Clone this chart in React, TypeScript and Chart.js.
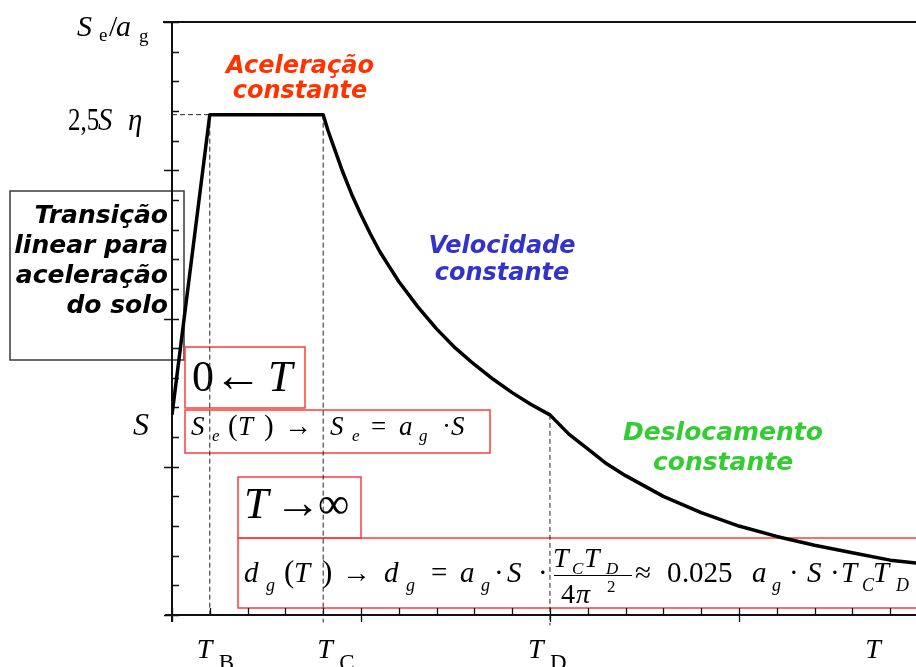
import React, { useEffect, useRef } from 'react';
import { Chart, registerables } from 'chart.js';

Chart.register(...registerables);

// ---- data ----
const periodT = [0, 0.2, 0.8, 0.825, 0.85, 0.875, 0.9, 0.95, 1.0, 1.05, 1.1, 1.15, 1.2, 1.3, 1.4, 1.5, 1.6, 1.7, 1.8, 1.9, 2.0, 2.1, 2.2, 2.3, 2.4, 2.6, 2.8, 3.0, 3.2, 3.4, 3.6, 3.8, 3.94];
const spectrumSe = [1.35, 3.375, 3.375, 3.27, 3.18, 3.09, 3.0, 2.84, 2.7, 2.57, 2.45, 2.35, 2.25, 2.08, 1.93, 1.8, 1.69, 1.59, 1.5, 1.42, 1.35, 1.22, 1.12, 1.02, 0.94, 0.8, 0.69, 0.6, 0.53, 0.47, 0.42, 0.37, 0.35];
const cornerPeriods = [0.2, 0.8, 2.0]; // T_B, T_C, T_D
const cornerSe = [3.375, 3.375, 1.35];
const plateauSe = 3.375;
const xTickLabelValues = [0.2, 0.8, 2.0, 3.7];
const xTickLabelSubs = ['B', 'C', 'D', ''];
const yTickLabelValues = [1.35, 3.375];
const xMin = 0;
const xMax = 3.937;
const yMin = 0;
const yMax = 4;
const minorStep = 0.2;

// ---- styles ----
const SERIF = '"Liberation Serif", "Times New Roman", serif';
const SANS = '"DejaVu Sans", Verdana, sans-serif';
const xLabelNudge = [-13, -6, -22, -6];

type Opt = { italic?: boolean; bold?: boolean; family?: string; color?: string; align?: CanvasTextAlign; sx?: number };
function txt(ctx: CanvasRenderingContext2D, s: string, x: number, y: number, size: number, o: Opt = {}) {
  ctx.save();
  ctx.font = `${o.italic ? 'italic ' : ''}${o.bold ? 'bold ' : ''}${size}px ${o.family || SERIF}`;
  ctx.fillStyle = o.color || '#000';
  ctx.textAlign = o.align || 'left';
  ctx.textBaseline = 'alphabetic';
  ctx.translate(x, y);
  ctx.scale(o.sx || 1, 1);
  ctx.fillText(s, 0, 0);
  ctx.restore();
}

function rect(ctx: CanvasRenderingContext2D, x1: number, y1: number, x2: number, y2: number, color: string, w: number) {
  ctx.save();
  ctx.strokeStyle = color;
  ctx.lineWidth = w;
  ctx.strokeRect(x1, y1, x2 - x1, y2 - y1);
  ctx.restore();
}

// [text, x, baseline, size, italic]
type Frag = [string, number, number, number, boolean];
const box1: Frag[] = [['0', 192, 391, 44, false], ['\u2190', 214, 391, 48, false], ['T', 268, 391, 44, true]];
const box2: Frag[] = [
  ['S', 191, 435, 27, true], ['e', 212, 441, 17, true], ['(', 228, 435, 29, false], ['T', 238, 435, 27, true],
  [')', 264, 435, 29, false], ['\u2192', 284, 435, 28, false], ['S', 330, 435, 27, true], ['e', 352, 441, 17, true],
  ['=', 371, 435, 27, false], ['a', 399, 435, 27, true], ['g', 419, 441, 17, true], ['\u00b7', 442, 435, 27, false],
  ['S', 451, 435, 27, true],
];
const box3: Frag[] = [['T', 244, 518, 44, true], ['\u2192', 275, 518, 46, false], ['\u221e', 318, 518, 44, false]];
const box4: Frag[] = [
  ['d', 244, 582, 29, true], ['g', 266, 591, 18, true], ['(', 284, 582, 31, false], ['T', 294, 582, 29, true],
  [')', 322, 582, 31, false], ['\u2192', 342, 582, 29, false], ['d', 384, 582, 29, true], ['g', 406, 591, 18, true],
  ['=', 431, 582, 29, false], ['a', 460, 582, 29, true], ['g', 481, 591, 18, true], ['\u00b7', 494, 582, 29, false],
  ['S', 507, 582, 29, true], ['\u00b7', 538, 582, 29, false],
  ['T', 553, 567, 28, true], ['C', 572, 574, 17, true], ['T', 584, 567, 28, true], ['D', 606, 574, 17, true],
  ['4', 561, 603, 28, false], ['\u03c0', 576, 603, 28, true], ['2', 607, 592, 17, false],
  ['\u2248', 635, 582, 29, false], ['0', 667, 582, 29, false], ['.', 682, 582, 29, false], ['025', 689, 582, 29, false],
  ['a', 752, 582, 29, true], ['g', 772, 591, 18, true], ['\u00b7', 789, 582, 29, false], ['S', 807, 582, 29, true],
  ['\u00b7', 830, 582, 29, false], ['T', 841, 582, 29, true], ['C', 862, 591, 18, true], ['T', 873, 582, 29, true],
  ['D', 896, 591, 18, true],
];

const decor = {
  id: 'decor',
  beforeDatasetsDraw(chart: any) {
    const ctx: CanvasRenderingContext2D = chart.ctx;
    const xs = chart.scales.x;
    const ys = chart.scales.y;
    const left = xs.getPixelForValue(xMin);
    const bottom = ys.getPixelForValue(yMin);
    const top = ys.getPixelForValue(yMax);
    const right = chart.width;

    // boxes
    rect(ctx, 10, 191, 184, 360, '#3a3a3a', 1.5);
    const red = '#ff3b3b';
    rect(ctx, 185, 347, 305, 408, red, 1.5);
    rect(ctx, 185, 410, 490, 453, red, 1.5);
    rect(ctx, 238, 477, 361, 538, red, 1.5);
    rect(ctx, 238, 538, 940, 608, red, 1.5);

    // axes
    ctx.save();
    ctx.strokeStyle = '#111';
    ctx.lineWidth = 2;
    ctx.beginPath();
    ctx.moveTo(left - 9, top);
    ctx.lineTo(right, top);
    ctx.moveTo(left, top);
    ctx.lineTo(left, bottom + 7);
    ctx.moveTo(left - 7, bottom);
    ctx.lineTo(right, bottom);
    ctx.stroke();
    ctx.lineWidth = 1.3;
    ctx.beginPath();
    for (let v = yMin; v <= yMax + 1e-6; v += minorStep) {
      const p = Math.round(ys.getPixelForValue(v)) + 0.5;
      const major = Math.abs(v - Math.round(v)) < 1e-6;
      ctx.moveTo(major ? left - 8 : left, p);
      ctx.lineTo(left + 7, p);
    }
    for (let v = xMin; v <= xMax + 1e-6; v += minorStep) {
      const p = Math.round(xs.getPixelForValue(v)) + 0.5;
      const major = Math.abs(v - Math.round(v)) < 1e-6;
      ctx.moveTo(p, bottom - 7);
      ctx.lineTo(p, major ? bottom + 7 : bottom);
    }
    ctx.stroke();
    ctx.restore();

    // y labels
    txt(ctx, 'S', 77, top + 14, 30, { italic: true });
    txt(ctx, 'e', 99, top + 19, 19);
    txt(ctx, '/', 109, top + 14, 30);
    txt(ctx, 'a', 116, top + 14, 30, { italic: true });
    txt(ctx, 'g', 139, top + 20, 19);
    const p25 = ys.getPixelForValue(yTickLabelValues[1]);
    txt(ctx, '2,5', 68, p25 + 15, 32, { sx: 0.78 });
    txt(ctx, 'S', 98, p25 + 15, 32, { italic: true, sx: 0.9 });
    txt(ctx, '\u03b7', 128, p25 + 15, 32, { italic: true, sx: 0.9 });
    const pS = ys.getPixelForValue(yTickLabelValues[0]);
    txt(ctx, 'S', 133, pS + 20, 32, { italic: true });

    // x labels
    xTickLabelValues.forEach((v, i) => {
      const px = xs.getPixelForValue(v) + xLabelNudge[i];
      txt(ctx, 'T', px, bottom + 43, 28, { italic: true });
      if (xTickLabelSubs[i]) txt(ctx, xTickLabelSubs[i], px + 22, bottom + 55, 23);
    });

    // region labels
    const lab = (s: string, x: number, y: number, c: string, size = 24, align: CanvasTextAlign = 'center') =>
      txt(ctx, s, x, y, size, { italic: true, bold: true, family: SANS, color: c, align });
    lab('Acelera\u00e7\u00e3o', 300, 73, '#ff3300');
    lab('constante', 300, 98, '#ff3300');
    lab('Velocidade', 502, 253, '#3333cc');
    lab('constante', 502, 280, '#3333cc');
    lab('Deslocamento', 723, 440, '#33cc33', 25);
    lab('constante', 723, 470, '#33cc33', 25);
    lab('Transi\u00e7\u00e3o', 168, 223, '#000', 25, 'right');
    lab('linear para', 168, 253, '#000', 25, 'right');
    lab('acelera\u00e7\u00e3o', 168, 283, '#000', 25, 'right');
    lab('do solo', 168, 313, '#000', 25, 'right');

    // formulas
    const draw = (fr: Frag[]) => fr.forEach(([s, x, y, size, it]) => txt(ctx, s, x, y, size, { italic: it }));
    draw(box1);
    draw(box2);
    draw(box3);
    draw(box4);
    ctx.save();
    ctx.strokeStyle = '#000';
    ctx.lineWidth = 1.2;
    ctx.beginPath();
    ctx.moveTo(554, 575.5);
    ctx.lineTo(632, 575.5);
    ctx.stroke();
    ctx.restore();
  },
};

const whiteBg = {
  id: 'whiteBg',
  beforeDraw(chart: any) {
    const ctx = chart.ctx;
    ctx.save();
    ctx.fillStyle = '#fff';
    ctx.fillRect(0, 0, chart.width, chart.height);
    ctx.restore();
  },
};

export default function App() {
  const ref = useRef<HTMLCanvasElement | null>(null);
  useEffect(() => {
    document.body.style.margin = '0';
    if (!ref.current) return;
    const guide = (pts: { x: number; y: number }[]) => ({
      data: pts,
      borderColor: '#222',
      borderWidth: 1,
      borderDash: [5, 3],
      pointRadius: 0,
      clip: false as any,
      order: 2,
    });
    const chart = new Chart(ref.current, {
      type: 'line',
      data: {
        datasets: [
          {
            data: periodT.map((t, i) => ({ x: t, y: spectrumSe[i] })),
            borderColor: '#000',
            borderWidth: 3.5,
            pointRadius: 0,
            tension: 0,
            borderJoinStyle: 'round',
            order: 0,
          } as any,
          guide([{ x: xMin, y: plateauSe }, { x: cornerPeriods[0], y: plateauSe }]),
          guide([{ x: cornerPeriods[0], y: cornerSe[0] }, { x: cornerPeriods[0], y: yMin }]),
          guide([{ x: cornerPeriods[1], y: cornerSe[1] }, { x: cornerPeriods[1], y: yMin - 0.05 }]),
          guide([{ x: cornerPeriods[2], y: cornerSe[2] }, { x: cornerPeriods[2], y: yMin - 0.07 }]),
        ],
      },
      options: {
        responsive: false,
        animation: false,
        devicePixelRatio: 1,
        events: [],
        layout: { padding: { left: 172, top: 22, right: 0, bottom: 52 } },
        scales: {
          x: { type: 'linear', min: xMin, max: xMax, display: false },
          y: { type: 'linear', min: yMin, max: yMax, display: false },
        },
        plugins: { legend: { display: false }, tooltip: { enabled: false } },
      },
      plugins: [whiteBg, decor],
    });
    return () => chart.destroy();
  }, []);
  return (
    <div style={{ width: 916, height: 667 }}>
      <canvas ref={ref} width={916} height={667} style={{ display: 'block' }} />
    </div>
  );
}
